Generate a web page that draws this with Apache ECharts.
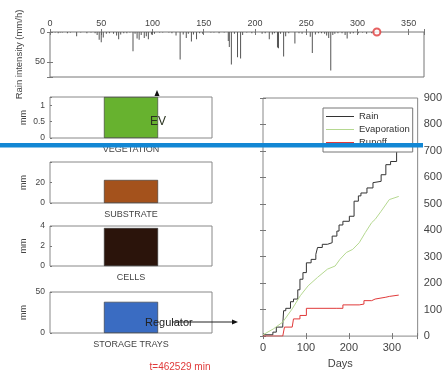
<!DOCTYPE html>
<html><head><meta charset="utf-8">
<script src="https://cdn.jsdelivr.net/npm/echarts@6/dist/echarts.min.js"></script>
<style>html,body{margin:0;padding:0;background:#fff}#c{width:445px;height:374px}</style>
</head><body><div id="c"></div>
<script>
// Rain intensity events (day of year, mm/h)
const rainDays = [5,8,10,12,17,20,26,30,36,40,44,46,48,50,52,55,58,62,65,67,69,72,75,78,81,83,85,87,89,92,94,96,99,100,102,107,110,116,119,123,127,130,133,135,138,140,143,146,149,157,160,165,170,174,175,177,180,183,186,188,192,197,200,207,210,214,217,219,222,223,225,228,230,233,239,243,246,250,254,256,259,262,265,268,270,272,274,276,278,281,285,288,290,293,296,301,305,309,314,317];
const rainIntensity = [1,2,1,1,2,1,7,1,2,1,2,5,13,17,9,3,2,3,6,12,4,2,2,1,32,3,11,13,5,10,7,12,4,2,3,1,1,1,2,6,46,4,10,3,16,4,12,2,3,1,1,2,1,15,25,54,3,42,44,5,1,2,1,3,2,12,4,2,26,27,3,41,7,2,19,2,3,1,8,35,4,2,2,3,6,10,64,5,3,2,2,5,11,3,2,2,1,3,2,2];
const currentDay = [319];

// Storage compartments
const storeNames = ['VEGETATION','SUBSTRATE','CELLS','STORAGE TRAYS'];
const storeValues = [1.25, 22.5, 3.8, 38];
const storeMax = [1.25, 40, 4, 50];
const storeInterval = [0.5, 20, 2, 50];
const storeColors = ['#67b22f','#a4521c','#2b140b','#3a6cc2'];

// Cumulative totals (days, mm)
const rainCumDays = [0,23,31,46,48,53,64,71,81,86,93,101,112,123,127,138,150,161,172,177,186,201,212,222,228,242,256,260,275,286,297,311,315,320];
const rainCumVals = [5,15,34,42,96,105,130,140,175,215,240,277,290,309,335,347,353,378,397,420,434,453,510,530,541,560,580,585,610,648,660,692,735,760];
const evapDays = [0,24,46,68,87,105,127,150,168,179,194,209,224,238,253,261,275,294,305,316];
const evapVals = [5,27,53,103,153,190,222,253,265,290,316,328,353,391,429,441,472,516,522,528];
const runoffDays = [0,46,50,68,71,86,101,172,186,224,235,253,261,286,294,316];
const runoffVals = [0,0,34,38,65,78,105,105,118,121,134,140,147,150,155,155];

const zip = (a,b) => a.map((v,i)=>[v,b[i]]);
const FONT = 'Liberation Sans';
const tickCol = '#777';
const labCol = '#444';

const grids = [{left:50, right:21, top:32, height:45, show:true, borderColor:'#777', borderWidth:1}];
const smallTops = [97,162,226,292];
const smallH = [41,41,40,41];
smallTops.forEach((t,i)=>grids.push({left:50, width:162, top:t, height:smallH[i], show:true, borderColor:'#888', borderWidth:1}));
grids.push({left:263, width:161, top:98, height:239, show:true, borderColor:'#888', borderWidth:1});

const inTick = {show:true, inside:true, length:3, lineStyle:{color:tickCol}};
const xAxes = [
  {gridIndex:0, type:'value', min:0, max:365, interval:50, position:'top',
   axisLine:{show:false}, axisTick:inTick, splitLine:{show:false},
   axisLabel:{fontSize:9, color:labCol, fontFamily:FONT, margin:4, formatter:v=>v%50===0?v:''}},
  {gridIndex:0, type:'value', min:0, max:365, interval:50, position:'bottom',
   axisLine:{show:false}, axisTick:inTick, splitLine:{show:false}, axisLabel:{show:false}}
];
const yAxes = [
  {gridIndex:0, type:'value', min:0, max:75, interval:50, inverse:true,
   axisLine:{show:false}, axisTick:inTick, splitLine:{show:false},
   axisLabel:{fontSize:9, color:labCol, fontFamily:FONT, margin:5, formatter:v=>v%50===0?v:''},
   name:'Rain intensity (mm/h)', nameLocation:'middle', nameGap:22, nameRotate:90,
   nameTextStyle:{fontSize:9.5, color:labCol, fontFamily:FONT}},
  {gridIndex:0, type:'value', min:0, max:75, interval:50, inverse:true, position:'right',
   axisLine:{show:false}, axisTick:inTick, splitLine:{show:false}, axisLabel:{show:false}}
];
storeNames.forEach((n,i)=>{
  xAxes.push({gridIndex:i+1, type:'category', data:[n], axisLine:{show:false}, axisTick:{show:false},
    axisLabel:{show:false}, name:n, nameLocation:'middle', nameGap:7,
    nameTextStyle:{fontSize:9, color:labCol, fontFamily:FONT}});
  yAxes.push({gridIndex:i+1, type:'value', min:0, max:storeMax[i], interval:storeInterval[i],
    axisLine:{show:false}, axisTick:{show:true, inside:true, length:2, lineStyle:{color:tickCol}}, splitLine:{show:false},
    axisLabel:{fontSize:8.5, color:labCol, fontFamily:FONT, margin:5,
      formatter:v=>(Math.abs(v/storeInterval[i]-Math.round(v/storeInterval[i]))<1e-9 && (i!==1 || v<40))?String(v):''},
    name:'mm', nameLocation:'middle', nameGap:22, nameRotate:90,
    nameTextStyle:{fontSize:9, color:labCol, fontFamily:FONT}});
});
xAxes.push({gridIndex:5, type:'value', min:0, max:360, interval:100, position:'bottom',
  axisLine:{show:false}, axisTick:inTick, splitLine:{show:false},
  axisLabel:{fontSize:11, color:labCol, fontFamily:FONT, margin:6, formatter:v=>v%100===0?v:''},
  name:'Days', nameLocation:'middle', nameGap:20, nameTextStyle:{fontSize:11, color:labCol, fontFamily:FONT}});
xAxes.push({gridIndex:5, type:'value', min:0, max:360, interval:100, position:'top',
  axisLine:{show:false}, axisTick:inTick, splitLine:{show:false}, axisLabel:{show:false}});
yAxes.push({gridIndex:5, type:'value', min:0, max:900, interval:100, position:'right',
  axisLine:{show:false}, axisTick:inTick, splitLine:{show:false},
  axisLabel:{fontSize:11, color:labCol, fontFamily:FONT, margin:6}});
yAxes.push({gridIndex:5, type:'value', min:0, max:900, interval:100, position:'left',
  axisLine:{show:false}, axisTick:inTick, splitLine:{show:false}, axisLabel:{show:false}});

const series = [
  {type:'bar', xAxisIndex:0, yAxisIndex:0, data:zip(rainDays, rainIntensity), barWidth:1,
   itemStyle:{color:'#555'}, silent:true},
  {type:'scatter', xAxisIndex:0, yAxisIndex:0, data:currentDay.map(d=>[d,0]), symbol:'emptyCircle',
   symbolSize:7, clip:false, itemStyle:{color:'#e03a3a', borderColor:'#e03a3a', borderWidth:1}, z:5}
];
storeNames.forEach((n,i)=>{
  series.push({type:'bar', xAxisIndex:i+2, yAxisIndex:i+2, data:[storeValues[i]], barWidth:'33.4%',
    itemStyle:{color:storeColors[i], borderColor:'#333', borderWidth:0.6}});
});
series.push({name:'Rain', type:'line', xAxisIndex:6, yAxisIndex:6, data:zip(rainCumDays, rainCumVals),
  step:'end', symbol:'none', lineStyle:{color:'#333', width:1}, itemStyle:{color:'#333'}});
series.push({name:'Evaporation', type:'line', xAxisIndex:6, yAxisIndex:6, data:zip(evapDays, evapVals),
  symbol:'none', lineStyle:{color:'#b5d890', width:1}, itemStyle:{color:'#b5d890'}});
series.push({name:'Runoff', type:'line', xAxisIndex:6, yAxisIndex:6, data:zip(runoffDays, runoffVals),
  step:'end', symbol:'none', lineStyle:{color:'#e03a3a', width:1}, itemStyle:{color:'#e03a3a'}});

const chart = echarts.init(document.getElementById('c'), null, {renderer:'canvas'});
chart.setOption({
  animation:false,
  backgroundColor:'#fff',
  textStyle:{fontFamily:FONT},
  grid:grids, xAxis:xAxes, yAxis:yAxes, series:series,
  legend:{data:['Rain','Evaporation','Runoff'], orient:'vertical', left:323, top:108,
    icon:'rect', itemWidth:28, itemHeight:1, itemGap:0, padding:[2,3,3,3], z:20,
    backgroundColor:'#fff', borderColor:'#777', borderWidth:1,
    textStyle:{fontSize:9.5, color:'#333', fontFamily:FONT, lineHeight:13}},
  graphic:[
    {type:'polygon', z:100, shape:{points:[[157,90],[154.5,96],[159.5,96]]}, style:{fill:'#111'}},
    {type:'text', z:100, x:158, y:122, style:{text:'EV', fontSize:12, fill:'#2a3320', fontFamily:FONT, align:'center', verticalAlign:'middle'}},
    {type:'text', z:100, x:145, y:323, style:{text:'Regulator', fontSize:11, fill:'#222', fontFamily:FONT, align:'left', verticalAlign:'middle'}},
    {type:'line', z:100, shape:{x1:172, y1:322, x2:234, y2:322}, style:{stroke:'#222', lineWidth:1}},
    {type:'polygon', z:100, shape:{points:[[238,322],[232,319.5],[232,324.5]]}, style:{fill:'#111'}},
    {type:'text', z:100, x:180, y:367, style:{text:'t=462529 min', fontSize:10, fill:'#e03a3a', fontFamily:FONT, align:'center', verticalAlign:'middle'}},
    {type:'rect', z:110, shape:{x:0, y:143, width:423, height:4.5}, style:{fill:'#1287d4'}}
  ]
});
</script></body></html>
